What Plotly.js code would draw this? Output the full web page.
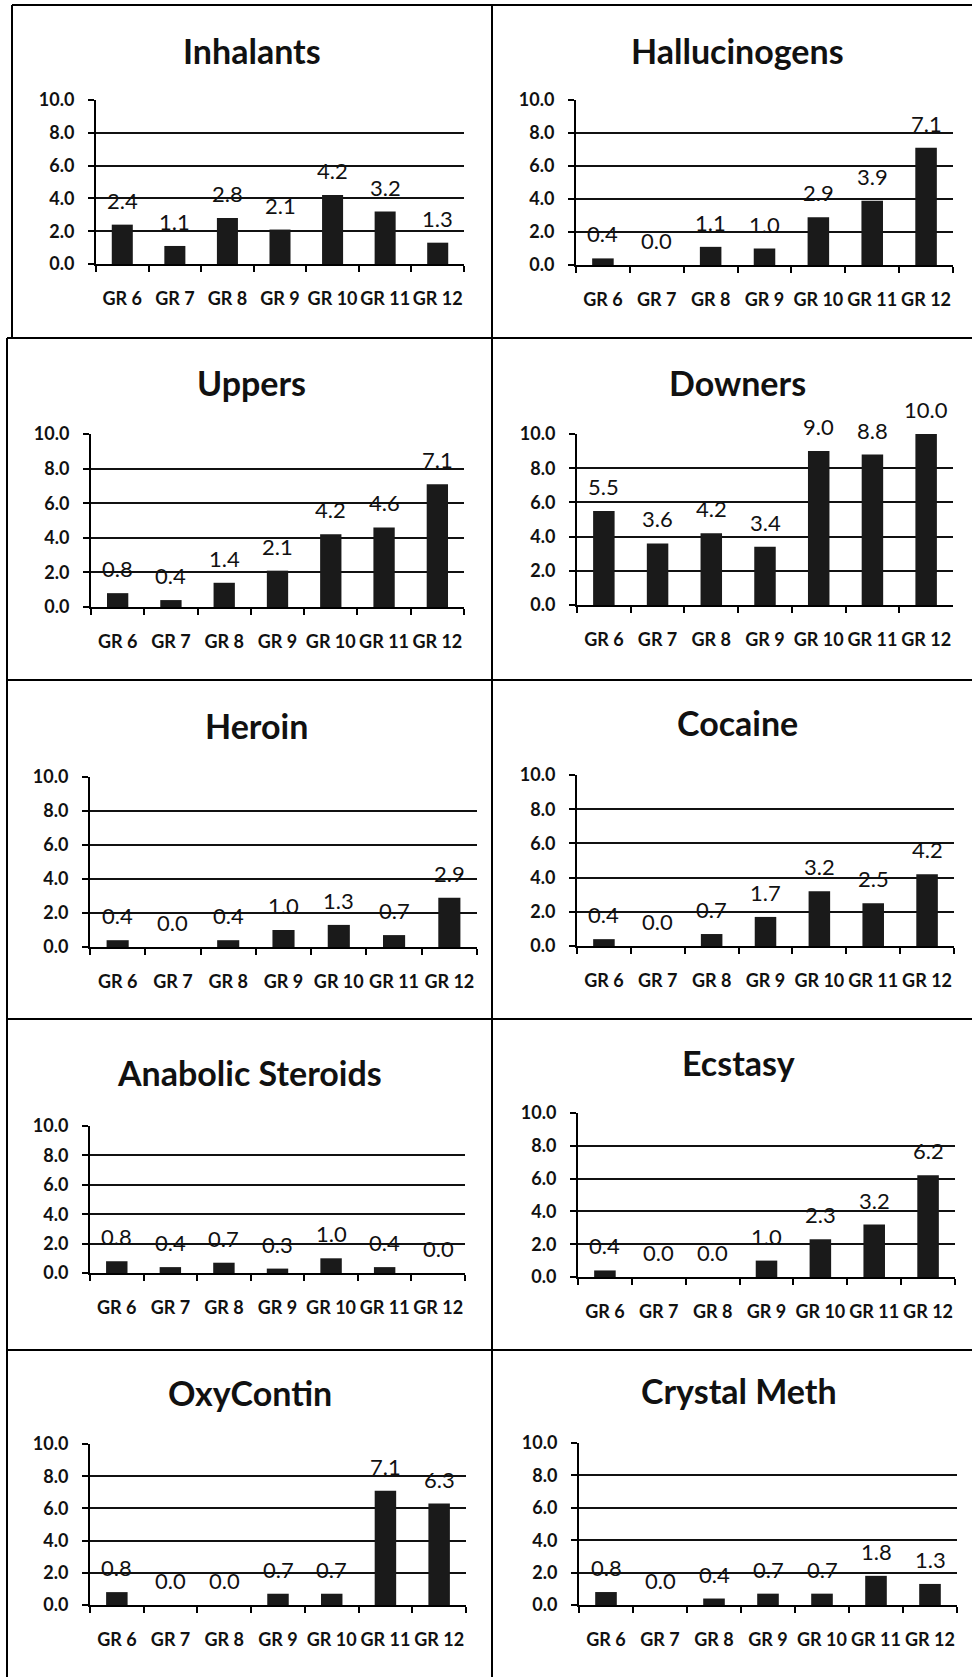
<!DOCTYPE html>
<html>
<head>
<meta charset="utf-8">
<script src="https://cdn.plot.ly/plotly-3.0.1.min.js"></script>
<style>
  html, body { margin: 0; padding: 0; background: #fff; }
  #chart { width: 972px; height: 1677px; }
</style>
</head>
<body>
<div id="chart"></div>
<script>
// ---- DATA ----
const categories = ['GR 6', 'GR 7', 'GR 8', 'GR 9', 'GR 10', 'GR 11', 'GR 12'];
const yTickVals = [0, 2, 4, 6, 8, 10];

const inhalants     = [2.4, 1.1, 2.8, 2.1, 4.2, 3.2, 1.3];
const hallucinogens = [0.4, 0.0, 1.1, 1.0, 2.9, 3.9, 7.1];
const uppers        = [0.8, 0.4, 1.4, 2.1, 4.2, 4.6, 7.1];
const downers       = [5.5, 3.6, 4.2, 3.4, 9.0, 8.8, 10.0];
const heroin        = [0.4, 0.0, 0.4, 1.0, 1.3, 0.7, 2.9];
const cocaine       = [0.4, 0.0, 0.7, 1.7, 3.2, 2.5, 4.2];
const anabolic      = [0.8, 0.4, 0.7, 0.3, 1.0, 0.4, 0.0];
const ecstasy       = [0.4, 0.0, 0.0, 1.0, 2.3, 3.2, 6.2];
const oxycontin     = [0.8, 0.0, 0.0, 0.7, 0.7, 7.1, 6.3];
const crystalMeth   = [0.8, 0.0, 0.4, 0.7, 0.7, 1.8, 1.3];

const titles = ['Inhalants', 'Hallucinogens', 'Uppers', 'Downers', 'Heroin',
                'Cocaine', 'Anabolic Steroids', 'Ecstasy', 'OxyContin', 'Crystal Meth'];
const series = [inhalants, hallucinogens, uppers, downers, heroin,
                cocaine, anabolic, ecstasy, oxycontin, crystalMeth];

// ---- GEOMETRY (pixels in 972x1677 page) ----
const W = 972, H = 1677;
// [plotLeft, plotRight, plotTop(10), plotBottom(0), titleX, titleY]
const geom = [
  [96, 464, 100, 264, 252, 50],
  [576, 953, 100, 265, 737, 50],
  [91, 464, 434, 607, 251, 382],
  [577, 953, 434, 605, 737, 382],
  [90, 477, 777, 947, 256, 725],
  [577, 954, 775, 946, 737, 722],
  [90, 465, 1126, 1273, 249, 1072],
  [578, 955, 1113, 1277, 738, 1062],
  [90, 466, 1444, 1605, 250, 1392],
  [579, 957, 1443, 1605, 739, 1390]
];
// panel border lines [x0, y0, x1, y1]
const borders = [
  [12, 5, 972, 5],
  [12, 5, 12, 338],
  [7, 338, 7, 1677],
  [492, 5, 492, 1677],
  [7, 338, 972, 338],
  [7, 680, 972, 680],
  [7, 1019, 972, 1019],
  [7, 1350, 972, 1350]
];

const FONT = 'Lato, "Open Sans", "Liberation Sans", sans-serif';
const px = v => v / W;
const py = v => 1 - v / H;

const data = [];
const annotations = [];
const layout = {
  width: W, height: H,
  margin: {l: 0, r: 0, t: 0, b: 0},
  paper_bgcolor: '#fff',
  plot_bgcolor: '#fff',
  showlegend: false,
  bargap: 0.6,
  font: {family: FONT, color: '#111'},
  shapes: [],
  annotations: annotations
};

series.forEach((vals, i) => {
  const n = i + 1;
  const xa = 'x' + (n === 1 ? '' : n);
  const ya = 'y' + (n === 1 ? '' : n);
  const g = geom[i];
  data.push({
    type: 'bar',
    x: categories,
    y: vals,
    xaxis: xa,
    yaxis: ya,
    marker: {color: '#1a1a1a', line: {width: 0}},
    hoverinfo: 'skip'
  });
  layout['xaxis' + (n === 1 ? '' : n)] = {
    domain: [px(g[0]), px(g[1])],
    anchor: ya,
    type: 'category',
    range: [-0.5, 6.5],
    showgrid: false,
    zeroline: false,
    showline: true,
    linecolor: '#000',
    linewidth: 2,
    ticks: 'outside',
    tickson: 'boundaries',
    ticklen: 6,
    tickwidth: 2,
    tickcolor: '#000',
    tickangle: 0,
    ticklabelstandoff: 17,
    tickfont: {family: FONT, size: 18, color: '#111', weight: 'bold'},
    fixedrange: true
  };
  layout['yaxis' + (n === 1 ? '' : n)] = {
    domain: [py(g[3]), py(g[2])],
    anchor: xa,
    range: [0, 10],
    tickvals: yTickVals,
    tickformat: '.1f',
    showgrid: true,
    gridcolor: '#111',
    gridwidth: 2,
    zeroline: false,
    showline: true,
    linecolor: '#000',
    linewidth: 2,
    ticks: 'outside',
    ticklen: 6,
    tickwidth: 2,
    tickcolor: '#000',
    ticklabelstandoff: 10,
    tickfont: {family: FONT, size: 18, color: '#111', weight: 'bold'},
    fixedrange: true
  };
  // title
  annotations.push({
    xref: 'paper', yref: 'paper',
    x: px(g[4]), y: py(g[5]),
    xanchor: 'center', yanchor: 'middle',
    text: titles[i],
    showarrow: false,
    font: {family: FONT, size: 34, color: '#111', weight: 'bold'}
  });
  // data labels
  vals.forEach((v, k) => {
    annotations.push({
      xref: xa, yref: ya,
      x: categories[k], y: v,
      xanchor: 'center', yanchor: 'bottom',
      yshift: 9,
      text: v.toFixed(1),
      showarrow: false,
      font: {family: FONT, size: 22, color: '#111'}
    });
  });
});

borders.forEach(b => {
  layout.shapes.push({
    type: 'line', xref: 'paper', yref: 'paper',
    x0: px(b[0]), y0: py(b[1]), x1: px(b[2]), y1: py(b[3]),
    line: {color: '#000', width: 2}
  });
});

Plotly.newPlot('chart', data, layout, {displayModeBar: false});
</script>
</body>
</html>
